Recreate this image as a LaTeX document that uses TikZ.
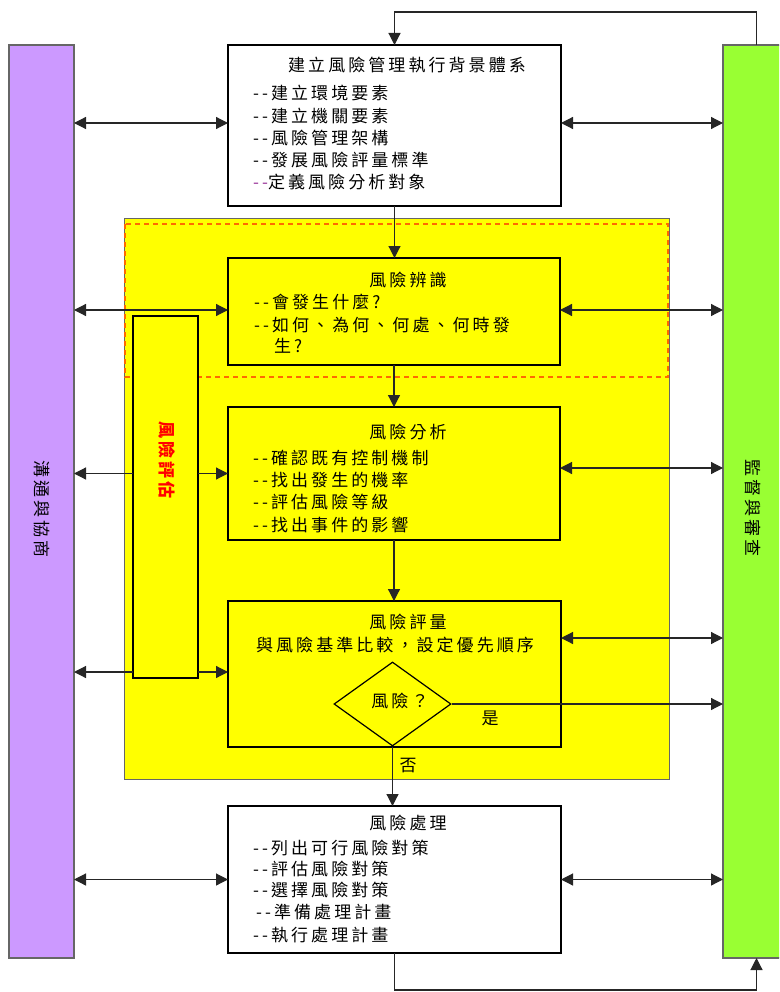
\documentclass[tikz,border=0pt]{standalone}
\usepackage{fontspec}
\setmainfont{Noto Sans CJK TC}[LetterSpace=18,Ligatures=TeXOff]
\usetikzlibrary{arrows.meta,shapes.geometric}
\definecolor{purp}{HTML}{CC99FF}
\definecolor{grn}{HTML}{99FF33}
\definecolor{yel}{HTML}{FFFF00}
\definecolor{orn}{HTML}{FF6A00}
\definecolor{mag}{HTML}{993399}
\begin{document}
\begin{tikzpicture}[x=1pt,y=-1pt,
  box/.style={draw=black,line width=1.4pt,inner sep=0pt,outer sep=0pt},
  col/.style={draw=gray!80!black,line width=1.4pt,inner sep=0pt,outer sep=0pt},
  lbl/.style={inner sep=0pt,font=\fontsize{17}{22}\selectfont},
  con/.style={line width=1.2pt,draw=black!85},
  arr/.style={con,-{Triangle[length=12pt,width=12pt]}},
  darr/.style={con,{Triangle[length=12pt,width=12pt]}-{Triangle[length=12pt,width=12pt]}}]
\useasboundingbox (0,0) rectangle (779,992);
\clip (0,0) rectangle (779,992);
% side columns
\node[col,fill=purp,minimum width=65,minimum height=913] (comm) at (41.5,501.5) {};
\node[col,fill=grn,minimum width=67,minimum height=913] (mon) at (756.5,501.5) {};
% yellow area
\node[col,fill=yel,line width=1pt,minimum width=545,minimum height=560] (yb) at (396.5,499) {};
\draw[orn,line width=1.2pt,dash pattern=on 5pt off 4pt] (125,224) rectangle (668,377);
% boxes
\node[box,fill=white,minimum width=333,minimum height=161] (ctx) at (394.5,125.5) {};
\node[box,fill=yel,minimum width=332,minimum height=107] (iden) at (394,311.5) {};
\node[box,fill=yel,minimum width=332,minimum height=133] (anal) at (394,473.5) {};
\node[box,fill=yel,minimum width=333,minimum height=146] (eval) at (394.5,674) {};
\node[box,fill=white,minimum width=333,minimum height=147] (treat) at (394.5,879.5) {};
\node[box,fill=yel,minimum width=65,minimum height=362] (assess) at (165.5,497) {};
\node[diamond,draw=black,line width=1.2pt,fill=yel,inner sep=0pt,minimum width=117,minimum height=84] (dia) at (392.5,704) {};
% texts
\node[lbl] (t1) at (407,65) {建立風險管理執行背景體系};
\node[lbl,anchor=west] (t1a) at (253,93) {--建立環境要素};
\node[lbl,anchor=west] (t1b) at (253,116) {--建立機關要素};
\node[lbl,anchor=west] (t1c) at (253,138) {--風險管理架構};
\node[lbl,anchor=west] (t1d) at (253,160) {--發展風險評量標準};
\node[lbl,anchor=west] (t1e) at (253,182) {{\color{mag}--}定義風險分析對象};
\node[lbl] (t2) at (408,280) {風險辨識};
\node[lbl,anchor=west] (t2a) at (254,302) {--會發生什麼?};
\node[lbl,anchor=west] (t2b) at (254,325) {--如何、為何、何處、何時發};
\node[lbl,anchor=west] (t2c) at (274,346) {生?};
\node[lbl] (t3) at (408,432) {風險分析};
\node[lbl,anchor=west] (t3a) at (253,458) {--確認既有控制機制};
\node[lbl,anchor=west] (t3b) at (253,480) {--找出發生的機率};
\node[lbl,anchor=west] (t3c) at (253,502) {--評估風險等級};
\node[lbl,anchor=west] (t3d) at (253,525) {--找出事件的影響};
\node[lbl] (t4) at (408,622) {風險評量};
\node[lbl] (t4a) at (395,645) {與風險基準比較，設定優先順序};
\node[lbl] (t4b) at (400,701) {風險？};
\node[lbl] (t5) at (408,823) {風險處理};
\node[lbl,anchor=west] (t5a) at (253,848) {--列出可行風險對策};
\node[lbl,anchor=west] (t5b) at (253,869) {--評估風險對策};
\node[lbl,anchor=west] (t5c) at (253,890) {--選擇風險對策};
\node[lbl,anchor=west] (t5d) at (256,912) {--準備處理計畫};
\node[lbl,anchor=west] (t5e) at (253,935) {--執行處理計畫};
\node[lbl] (yes) at (490,718) {是};
\node[lbl] (no) at (408,766) {否};
\node[lbl,rotate=-90] (commt) at (41.5,509) {溝通與協商};
\node[lbl,rotate=-90] (mont) at (753,508) {監督與審查};
\node[lbl,rotate=-90,text=red,font=\fontsize{17}{22}\selectfont\bfseries] (asst) at (167,460) {風險評估};
% helper coordinates
\coordinate (r1) at ([yshift=2.5pt]ctx.east);
\coordinate (l1) at ([yshift=2.5pt]ctx.west);
\coordinate (r2) at ([yshift=1.5pt]iden.east);
\coordinate (l2) at ([yshift=1.5pt]iden.west);
\coordinate (r3) at ([yshift=5.5pt]anal.east);
\coordinate (r4) at ([yshift=36pt]eval.east);
\coordinate (l4) at ([yshift=2pt]eval.west);
% vertical flow
\draw[arr] (ctx.south) -- (ctx.south |- iden.north);
\draw[arr] (iden.south) -- (anal.north);
\draw[arr] (anal.south) -- (anal.south |- eval.north);
\draw[arr] (dia.south) -- (dia.south |- treat.north);
\draw[arr] (treat.south) -- ++(0,37) -| (mon.south);
\draw[arr] (mon.north) -- ++(0,-33) -| (ctx.north);
% right connectors
\draw[darr] (r1) -- (r1 -| mon.west);
\draw[darr] (r2) -- (r2 -| mon.west);
\draw[darr] (r3) -- (r3 -| mon.west);
\draw[darr] (r4) -- (r4 -| mon.west);
\draw[arr] (dia.east) -- (dia.east -| mon.west);
\draw[darr] (treat.east) -- (treat.east -| mon.west);
% left connectors
\draw[darr] (comm.east |- l1) -- (l1);
\draw[darr] (comm.east |- l2) -- (l2);
\draw[arr] (assess.west |- anal.west) -- (comm.east |- anal.west);
\draw[arr] (assess.east |- anal.west) -- (anal.west);
\draw[arr] (assess.west |- l4) -- (comm.east |- l4);
\draw[arr] (assess.east |- l4) -- (l4);
\draw[darr] (comm.east |- treat.west) -- (treat.west);
\end{tikzpicture}
\end{document}
